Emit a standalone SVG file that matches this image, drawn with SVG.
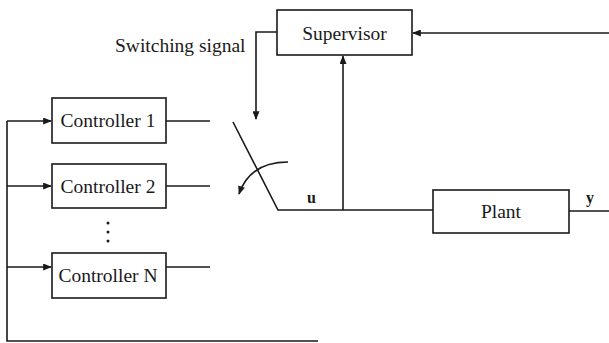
<svg xmlns="http://www.w3.org/2000/svg" width="609" height="343" viewBox="0 0 609 343">
<defs>
<marker id="ah" viewBox="0 0 10 8" refX="9" refY="4" markerWidth="9" markerHeight="7" markerUnits="userSpaceOnUse" orient="auto">
<path d="M0,0 L10,4 L0,8 Z" fill="#1a1a1a"/>
</marker>
</defs>
<style>
.box{fill:#fff;stroke:#1a1a1a;stroke-width:1.6}
.ln{fill:none;stroke:#1a1a1a;stroke-width:1.6}
.t{font-family:"Liberation Serif","Times New Roman",serif;font-size:19.5px;fill:#1a1a1a}
.s{font-family:"Liberation Serif","Times New Roman",serif;font-size:16px;font-weight:bold;fill:#1a1a1a}
</style>
<g id="connectors">
<path class="ln" d="M609,33 L413,33" marker-end="url(#ah)"/>
<path class="ln" d="M277,32 L256,32 L256,119" marker-end="url(#ah)"/>
<path class="ln" d="M343,210 L343,56" marker-end="url(#ah)"/>
<path class="ln" d="M7,121 L51,121" marker-end="url(#ah)"/>
<path class="ln" d="M7,186 L51,186" marker-end="url(#ah)"/>
<path class="ln" d="M7,267 L51,267" marker-end="url(#ah)"/>
<path class="ln" d="M7,121 L7,341 L318,341"/>
<path class="ln" d="M166,121 L210,121"/>
<path class="ln" d="M166,186 L210,186"/>
<path class="ln" d="M166,267 L210,267"/>
<path class="ln" d="M233,122 L278,210 L433,210"/>
<path class="ln" d="M288,162 Q250,162 239,194" marker-end="url(#ah)"/>
<path class="ln" d="M569,211 L609,211"/>
</g>
<g id="supervisor">
<rect class="box" x="277" y="10" width="135" height="45"/>
<text class="t" x="344.5" y="40" text-anchor="middle">Supervisor</text>
</g>
<g id="switching-label">
<text class="t" x="115" y="52">Switching signal</text>
</g>
<g id="controller1">
<rect class="box" x="52" y="98" width="114" height="45"/>
<text class="t" x="108" y="127" text-anchor="middle">Controller 1</text>
</g>
<g id="controller2">
<rect class="box" x="52" y="164" width="114" height="44"/>
<text class="t" x="108" y="193" text-anchor="middle">Controller 2</text>
</g>
<g id="dots">
<circle cx="108" cy="223" r="1.5" fill="#1a1a1a"/>
<circle cx="108" cy="232" r="1.5" fill="#1a1a1a"/>
<circle cx="108" cy="241" r="1.5" fill="#1a1a1a"/>
</g>
<g id="controllerN">
<rect class="box" x="52" y="253" width="114" height="45"/>
<text class="t" x="108" y="282" text-anchor="middle">Controller N</text>
</g>
<g id="plant">
<rect class="box" x="433" y="190" width="136" height="43"/>
<text class="t" x="501" y="218" text-anchor="middle">Plant</text>
</g>
<g id="labels">
<text class="s" x="307" y="203">u</text>
<text class="s" x="586" y="203">y</text>
</g>
</svg>
